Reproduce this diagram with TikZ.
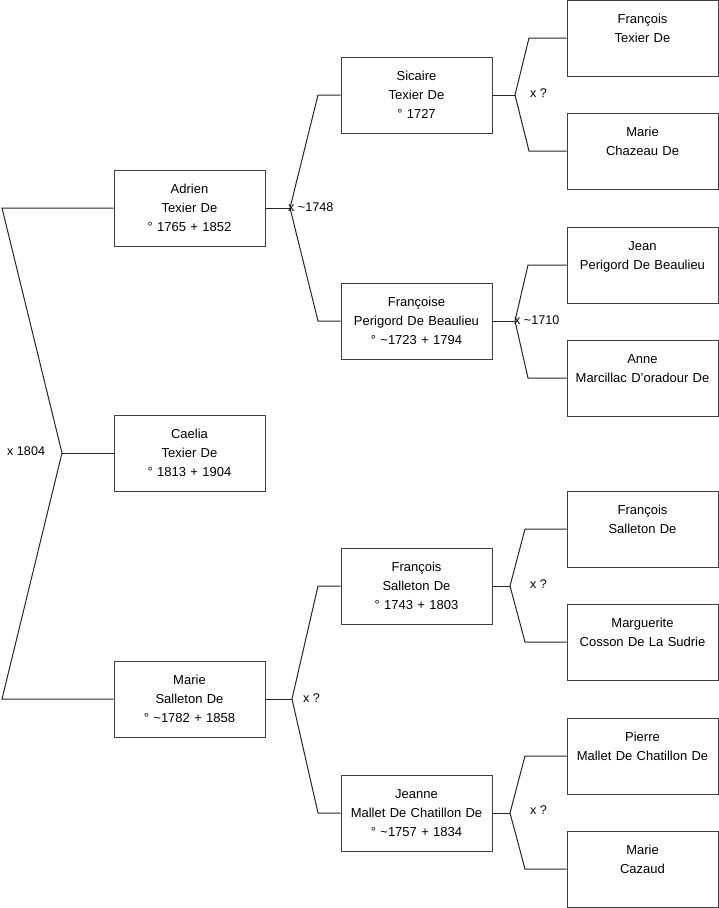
\documentclass[tikz,border=0pt]{standalone}
\usepackage{fontspec}
\setmainfont{Liberation Sans}
\tikzset{
  person/.style={draw=black!75, line width=1pt, fill=white, minimum width=151pt, minimum height=76pt,
    inner sep=0pt, text width=149pt, align=center, font=\fontsize{13}{19}\selectfont},
  link/.style={draw=black!85, line width=1pt},
  mar/.style={anchor=west, inner sep=0pt, font=\fontsize{12.6}{14}\selectfont}
}
\begin{document}
\begin{tikzpicture}[x=1pt,y=-1pt]
\useasboundingbox (0,0) rectangle (719,908);
% column 1
\node[person] (adrien) at (189.5,208) {Adrien\\Texier De\\° 1765 + 1852};
\node[person] (caelia) at (189.5,453) {Caelia\\Texier De\\° 1813 + 1904};
\node[person] (marie) at (189.5,699) {Marie\\Salleton De\\° \textasciitilde1782 + 1858};
% column 2
\node[person] (sicaire) at (416.5,95) {Sicaire\\Texier De\\° 1727};
\node[person] (francoise) at (416.5,321) {Françoise\\Perigord De Beaulieu\\° \textasciitilde1723 + 1794};
\node[person] (fsalleton) at (416.5,586) {François\\Salleton De\\° 1743 + 1803};
\node[person] (jeanne) at (416.5,813) {Jeanne\\Mallet De Chatillon De\\° \textasciitilde1757 + 1834};
% column 3
\node[person] (ftexier) at (642.5,38) {François\\Texier De\\\mbox{}};
\node[person] (mchazeau) at (642.5,151) {Marie\\Chazeau De\\\mbox{}};
\node[person] (jean) at (642.5,265) {Jean\\Perigord De Beaulieu\\\mbox{}};
\node[person] (anne) at (642.5,378) {Anne\\Marcillac D'oradour De\\\mbox{}};
\node[person] (fsalleton2) at (642.5,529) {François\\Salleton De\\\mbox{}};
\node[person] (marguerite) at (642.5,642) {Marguerite\\Cosson De La Sudrie\\\mbox{}};
\node[person] (pierre) at (642.5,756) {Pierre\\Mallet De Chatillon De\\\mbox{}};
\node[person] (mcazaud) at (642.5,869) {Marie\\Cazaud\\\mbox{}};
% junctions and bends
\coordinate (j0) at (62,453);  \coordinate (b0a) at (2,208);   \coordinate (b0b) at (2,699);
\coordinate (j1) at (290,208); \coordinate (b1a) at (318,95);  \coordinate (b1b) at (318,321);
\coordinate (j2) at (515,95);  \coordinate (b2a) at (529,38);  \coordinate (b2b) at (529,151);
\coordinate (j3) at (515,321); \coordinate (b3a) at (528,265); \coordinate (b3b) at (528,378);
\coordinate (j4) at (292,699); \coordinate (b4a) at (318,586); \coordinate (b4b) at (318,813);
\coordinate (j5) at (510,586); \coordinate (b5a) at (525,529); \coordinate (b5b) at (525,642);
\coordinate (j6) at (510,813); \coordinate (b6a) at (525,756); \coordinate (b6b) at (525,869);
% connectors
\draw[link] (caelia.west) -- (j0);
\draw[link] (j0) -- (b0a) -- (adrien.west);
\draw[link] (j0) -- (b0b) -- (marie.west);
\draw[link] (adrien.east) -- (j1);
\draw[link] (j1) -- (b1a) -- (sicaire.west);
\draw[link] (j1) -- (b1b) -- (francoise.west);
\draw[link] (sicaire.east) -- (j2);
\draw[link] (j2) -- (b2a) -- (ftexier.west);
\draw[link] (j2) -- (b2b) -- (mchazeau.west);
\draw[link] (francoise.east) -- (j3);
\draw[link] (j3) -- (b3a) -- (jean.west);
\draw[link] (j3) -- (b3b) -- (anne.west);
\draw[link] (marie.east) -- (j4);
\draw[link] (j4) -- (b4a) -- (fsalleton.west);
\draw[link] (j4) -- (b4b) -- (jeanne.west);
\draw[link] (fsalleton.east) -- (j5);
\draw[link] (j5) -- (b5a) -- (fsalleton2.west);
\draw[link] (j5) -- (b5b) -- (marguerite.west);
\draw[link] (jeanne.east) -- (j6);
\draw[link] (j6) -- (b6a) -- (pierre.west);
\draw[link] (j6) -- (b6b) -- (mcazaud.west);
% marriage labels
\node[mar] (m0) at (7,451) {x 1804};
\node[mar] (m1) at (288,207) {x \textasciitilde1748};
\node[mar] (m2) at (530,93) {x ?};
\node[mar] (m3) at (514,320) {x \textasciitilde1710};
\node[mar] (m4) at (303,698) {x ?};
\node[mar] (m5) at (530,584) {x ?};
\node[mar] (m6) at (530,810) {x ?};
\end{tikzpicture}
\end{document}
